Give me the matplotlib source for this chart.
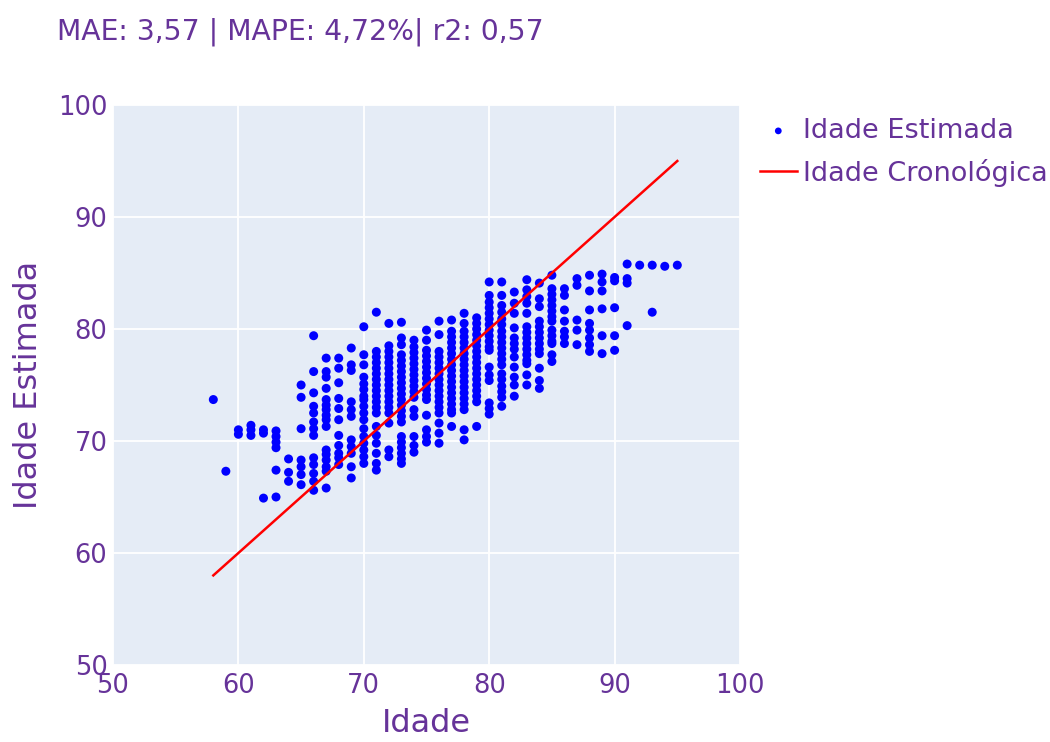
import numpy as np
import matplotlib
matplotlib.use("Agg")
import matplotlib.pyplot as plt

# idade cronologica (eixo x) e idades estimadas lidas em cada coluna
idades = [58, 59, 60, 61, 62, 63, 64, 65, 66, 67, 68, 69, 70, 71, 72, 73, 74, 75, 76,
          77, 78, 79, 80, 81, 82, 83, 84, 85, 86, 87, 88, 89, 90, 91, 92, 93, 94, 95]
estimadas = [
    [73.7],
    [67.3],
    [71.0, 70.6],
    [71.4, 71.0, 70.5],
    [71.0, 70.7, 64.9],
    [70.9, 70.4, 69.9, 69.4, 67.4, 65.0],
    [68.4, 67.2, 66.4],
    [75.0, 73.9, 71.1, 68.3, 67.7, 67.0, 66.1],
    [79.4, 76.2, 74.3, 73.1, 72.5, 71.7, 71.1, 70.5, 68.5, 67.9, 67.1, 66.4, 65.6],
    [77.4, 76.2, 75.7, 74.7, 73.7, 73.2, 72.8, 72.3, 71.9, 71.3, 69.2, 68.8, 68.3, 67.7, 67.3, 65.8],
    [77.4, 76.5, 75.2, 73.8, 72.9, 71.9, 70.5, 69.6, 68.9, 68.5, 67.9],
    [78.3, 76.8, 76.3, 73.5, 72.8, 72.2, 70.1, 69.5, 68.9, 67.7, 66.7],
    [80.2, 77.7, 76.8, 75.7, 75.1, 74.6, 74.0, 73.7, 73.1, 72.5, 71.9, 71.1, 70.4, 69.8, 69.2, 68.6, 68.0],
    [81.5, 78.0, 77.5, 77.0, 76.5, 76.0, 75.5, 75.0, 74.5, 74.0, 73.5, 73.0, 72.5, 71.3, 70.5, 69.8, 68.9, 68.0, 67.4],
    [80.5, 78.5, 78.0, 77.5, 77.0, 76.5, 76.0, 75.5, 75.0, 74.5, 74.0, 73.5, 73.0, 72.5, 71.6, 69.2, 68.6],
    [80.6, 79.2, 78.6, 77.7, 77.2, 76.7, 76.2, 75.7, 75.2, 74.7, 74.2, 73.7, 73.2, 72.7, 72.2, 71.7,
     70.4, 69.9, 69.4, 68.9, 68.4, 68.0],
    [79.0, 78.4, 77.9, 77.4, 76.9, 76.4, 75.9, 75.4, 74.9, 74.4, 73.9, 72.8, 72.2, 70.4, 69.6, 69.0],
    [79.9, 79.0, 78.1, 77.6, 77.1, 76.6, 76.1, 75.6, 75.1, 74.6, 74.1, 73.7, 72.3, 71.0, 70.4, 69.9],
    [80.7, 79.5, 78.0, 77.5, 77.0, 76.5, 76.0, 75.5, 75.0, 74.5, 74.0, 73.5, 73.0, 72.5, 71.6, 70.7, 69.8],
    [80.8, 79.8, 79.3, 78.8, 78.3, 77.8, 77.3, 76.8, 76.3, 75.8, 75.3, 74.8, 74.3, 73.8, 73.3, 72.8, 72.5, 71.3],
    [81.4, 80.5, 79.8, 79.3, 78.8, 78.3, 77.8, 77.3, 76.8, 76.3, 75.8, 75.3, 74.8, 74.3, 73.8, 73.3, 72.8,
     71.0, 70.1],
    [81.0, 80.5, 80.0, 79.5, 79.0, 78.5, 78.0, 77.5, 77.0, 76.5, 76.0, 75.5, 75.0, 74.5, 74.0, 73.5, 71.3],
    [84.2, 83.0, 82.4, 81.9, 81.4, 80.9, 80.4, 79.9, 79.4, 78.9, 78.4, 78.1, 76.6, 75.9, 75.4, 73.4, 72.9, 72.4],
    [84.2, 83.0, 82.1, 81.5, 80.9, 80.4, 79.8, 79.3, 78.8, 78.3, 77.8, 77.3, 76.8, 76.0, 75.5, 74.9, 74.4,
     73.9, 73.1],
    [83.3, 82.3, 81.4, 80.1, 79.2, 78.7, 78.2, 77.5, 76.6, 75.7, 75.0, 74.0],
    [84.4, 83.5, 82.9, 82.3, 81.4, 80.2, 79.7, 79.2, 78.7, 78.2, 77.7, 77.2, 76.9, 75.9, 75.0],
    [84.1, 82.7, 82.0, 80.7, 80.2, 79.7, 79.2, 78.7, 78.2, 77.8, 76.5, 75.4, 74.7],
    [84.8, 83.6, 83.1, 82.6, 82.1, 81.6, 81.1, 80.7, 79.9, 79.4, 78.9, 78.7, 77.7, 77.1],
    [83.6, 83.0, 81.7, 80.7, 79.8, 79.3, 78.7],
    [84.5, 83.9, 80.8, 79.9, 78.6],
    [84.8, 83.4, 81.7, 80.5, 79.9, 79.2, 78.6, 78.0],
    [84.9, 84.2, 83.4, 81.8, 79.4, 77.8],
    [84.6, 84.3, 81.9, 79.4, 78.1],
    [85.8, 84.5, 84.1, 80.3],
    [85.7],
    [85.7, 81.5],
    [85.6],
    [85.7],
]
# reta y = x (idade cronologica)
linha_x = [58, 95]
linha_y = [58, 95]

titulo = "MAE: 3,57 | MAPE: 4,72%| r2: 0,57"
roxo = "#663399"

xs = []
ys = []
for idade, vals in zip(idades, estimadas):
    for v in vals:
        xs.append(idade)
        ys.append(v)

fig = plt.figure(figsize=(10.5, 7.42), dpi=100)
ax = fig.add_axes([113/1050, 1-665/742, (740-113)/1050, (665-105)/742])
ax.set_facecolor("#E5ECF6")

ax.scatter(xs, ys, s=42, c="blue", edgecolors="none", label="Idade Estimada", zorder=3)
ax.plot(linha_x, linha_y, color="red", lw=1.8, label="Idade Cronológica", zorder=4)

ax.set_xlim(50, 100)
ax.set_ylim(50, 100)
ax.set_xticks(np.arange(50, 101, 10))
ax.set_yticks(np.arange(50, 101, 10))
ax.grid(True, color="white", lw=1.3)
ax.set_axisbelow(True)
for s in ax.spines.values():
    s.set_visible(False)
ax.tick_params(length=0, labelsize=18.5, labelcolor=roxo)
ax.tick_params(axis="x", pad=6)
ax.tick_params(axis="y", pad=4)

ax.set_xlabel("Idade", fontsize=23, color=roxo, labelpad=6)
ax.set_ylabel("Idade Estimada", fontsize=23, color=roxo, labelpad=10)

fig.text(57/1050, 1-39/742, titulo, fontsize=20.3, color=roxo, ha="left", va="baseline")

leg = ax.legend(loc="upper left", bbox_to_anchor=(760/1050, 1-118/742),
                bbox_transform=fig.transFigure, frameon=False, fontsize=19.5,
                handlelength=1.35, handletextpad=0.25, labelspacing=0.55,
                borderpad=0, borderaxespad=0, markerscale=0.75)
for t in leg.get_texts():
    t.set_color(roxo)

fig.savefig("out.png", dpi=100)
